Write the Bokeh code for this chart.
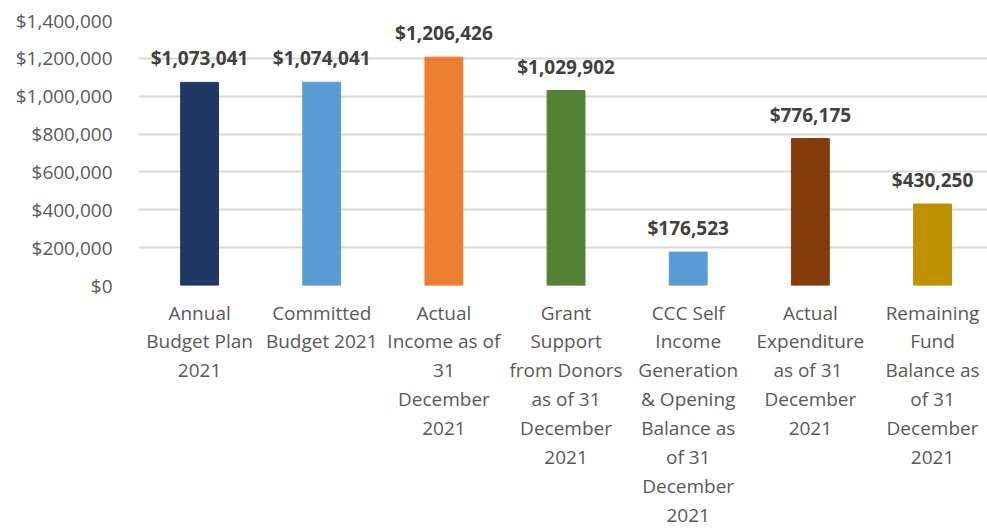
from bokeh.plotting import figure
from bokeh.models import ColumnDataSource, Range1d, FixedTicker, NumeralTickFormatter
from bokeh.core.properties import value
from bokeh.embed import file_html
from bokeh.resources import INLINE

categories = [
    "Annual\nBudget Plan\n2021",
    "Committed\nBudget 2021",
    "Actual\nIncome as of\n31\nDecember\n2021",
    "Grant\nSupport\nfrom Donors\nas of 31\nDecember\n2021",
    "CCC Self\nIncome\nGeneration\n& Opening\nBalance as\nof 31\nDecember\n2021",
    "Actual\nExpenditure\nas of  31\nDecember\n2021",
    "Remaining\nFund\nBalance as\nof 31\nDecember\n2021",
]
amounts = [1073041, 1074041, 1206426, 1029902, 176523, 776175, 430250]
colors = ["#203864", "#5B9BD5", "#ED7D31", "#548235", "#5B9BD5", "#843C0C", "#BF9000"]
y_ticks = [0, 200000, 400000, 600000, 800000, 1000000, 1200000, 1400000]

xs = [i + 0.5 for i in range(len(categories))]
labels = ["${:,}".format(v) for v in amounts]

src = ColumnDataSource(dict(x=xs, top=amounts, color=colors, label=labels))

FONT = "Open Sans"

p = figure(width=987, height=530, output_backend="svg", toolbar_location=None,
           x_range=Range1d(0, 6.95), y_range=Range1d(0, 1400000),
           min_border_left=138, min_border_right=0, min_border_top=20, min_border_bottom=245)
p.outline_line_color = None
p.background_fill_color = "white"
p.border_fill_color = "white"

p.vbar(x="x", top="top", width=0.31, color="color", source=src)
p.text(x="x", y="top", text="label", source=src, text_align="center", text_baseline="bottom",
       y_offset=-11, text_font=value(FONT), text_font_style="bold", text_font_size="19px",
       text_color="#404040")

p.xgrid.grid_line_color = None
p.ygrid.grid_line_color = "#D9D9D9"
p.ygrid.grid_line_width = 2

p.yaxis.ticker = FixedTicker(ticks=y_ticks)
p.yaxis.formatter = NumeralTickFormatter(format="$0,0")
p.yaxis.axis_line_color = None
p.yaxis.major_tick_line_color = None
p.yaxis.minor_tick_line_color = None
p.yaxis.major_label_text_font = FONT
p.yaxis.major_label_text_font_size = "19px"
p.yaxis.major_label_text_color = "#595959"
p.yaxis.major_label_standoff = 20

p.xaxis.ticker = FixedTicker(ticks=xs)
p.xaxis.major_label_overrides = {x: c for x, c in zip(xs, categories)}
p.xaxis.axis_line_color = None
p.xaxis.major_tick_line_color = None
p.xaxis.minor_tick_line_color = None
p.xaxis.major_label_text_font = FONT
p.xaxis.major_label_text_font_size = "19px"
p.xaxis.major_label_text_color = "#595959"
p.xaxis.major_label_text_line_height = 1.11
p.xaxis.major_label_standoff = 8

open("out.html", "w").write(file_html(p, INLINE))
